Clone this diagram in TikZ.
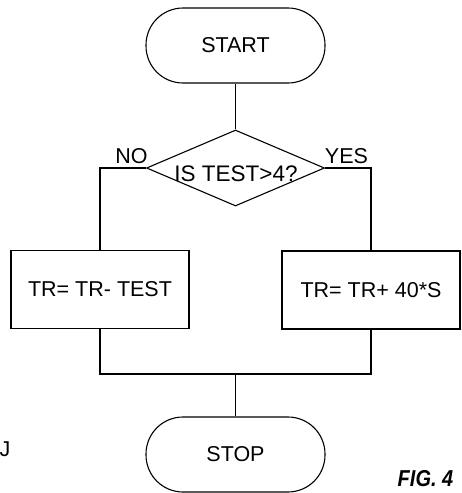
\documentclass[tikz,border=0pt]{standalone}
\usepackage{fontspec}
\setmainfont{Liberation Sans}
\usetikzlibrary{shapes.geometric}
\begin{document}
\begin{tikzpicture}[x=1pt,y=-1pt,line width=1.1pt,
  every node/.style={font=\fontsize{21.5}{25}\selectfont},
  term/.style={draw,rectangle,rounded corners=37pt,minimum width=179pt,minimum height=75pt,inner sep=0pt},
  proc/.style={draw,rectangle,minimum width=178pt,minimum height=78pt,inner sep=0pt},
  dec/.style={draw,diamond,minimum width=178pt,minimum height=76pt,inner sep=0pt},
  lbl/.style={inner sep=0pt}]
\useasboundingbox (0,0) rectangle (461,493);
\node[term] (start) at (235.5,45.5) {START};
\node[dec] (dia) at (235.5,168) {};
\node[lbl,font=\fontsize{22.5}{26}\selectfont] (q) at (236,174) {IS TEST>4?};
\node[lbl] (no) at (131.5,156) {NO};
\node[lbl] (yes) at (346.5,156) {YES};
\node[proc] (lbox) at (100,289.5) {TR= TR- TEST};
\node[proc] (rbox) at (371,290) {TR= TR+ 40*S};
\node[term] (stop) at (235.5,454.5) {STOP};
\node[lbl] (j) at (5,449) {J};
\node[lbl,font=\fontsize{20}{24}\selectfont\bfseries\itshape] (fig) at (425.5,479) {\scalebox{1}[1.15]{FIG. 4}};
\coordinate (m) at (235.5,374);
\draw (start.south) -- (dia.north);
\draw (dia.west) -| (lbox.north);
\draw (dia.east) -| (rbox.north);
\draw (lbox.south) |- (m);
\draw (rbox.south) |- (m);
\draw (m) -- (stop.north);
\end{tikzpicture}
\end{document}
